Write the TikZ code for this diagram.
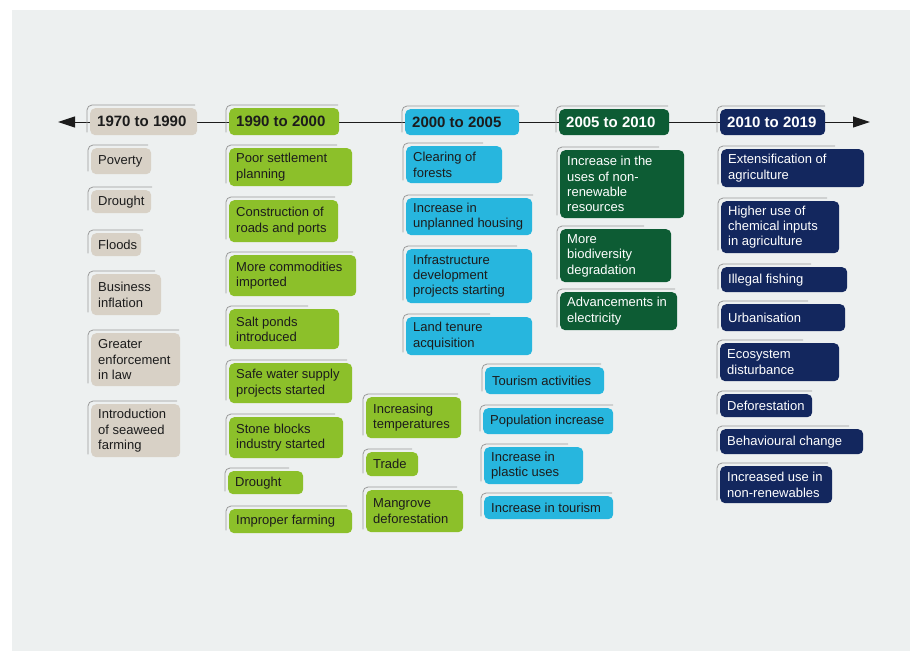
\documentclass[tikz,border=0pt]{standalone}
\usepackage{fontspec}
\setmainfont{Liberation Sans}
\usetikzlibrary{arrows.meta,calc}
\definecolor{cbg}{HTML}{EDF0F0}
\definecolor{cbeige}{HTML}{D8D1C6}
\definecolor{clgreen}{HTML}{8CC02A}
\definecolor{ccyan}{HTML}{27B6DE}
\definecolor{cdgreen}{HTML}{0D5C34}
\definecolor{cnavy}{HTML}{13275E}
\definecolor{cdark}{HTML}{1C1C1C}
\definecolor{cline}{HTML}{9A9A9A}
\tikzset{
  evbox/.style={rounded corners=5pt, inner sep=0pt, draw=none},
  fbeige/.style={fill=cbeige},
  flgreen/.style={fill=clgreen},
  fcyan/.style={fill=ccyan},
  fdgreen/.style={fill=cdgreen},
  fnavy/.style={fill=cnavy},
  bracket/.style={draw=cline, line width=0.8pt, rounded corners=5pt},
  dtext/.style={inner sep=0pt, align=left, text=cdark, font=\fontsize{13}{15.3}\selectfont},
  ltext/.style={dtext, text=white},
  hdtext/.style={inner sep=0pt, align=left, text=cdark, font=\fontsize{15}{18}\selectfont\bfseries},
  hltext/.style={hdtext, text=white},
  timeline/.style={draw=cdark, line width=1pt, {Triangle[length=17pt,width=11pt]}-{Triangle[length=17pt,width=11pt]}}
}
% name, x1, y1, x2, y2, bracket end x, fill style, text style, text
\newcommand{\evt}[9]{%
  \pgfmathsetmacro{\evbw}{#4-#2}%
  \pgfmathsetmacro{\evbh}{#5-#3}%
  \node[evbox,#7,minimum width=\evbw pt,minimum height=\evbh pt,anchor=north west] (#1) at (#2,#3) {};
  \draw[bracket] ([shift={(-3pt,3pt)}]#1.south west) |- ([shift={(#6pt-#2pt,3pt)}]#1.north west);
  \node[#8,anchor=west] (#1t) at ([xshift=7pt]#1.west) {#9};
}
\begin{document}
\begin{tikzpicture}[x=1pt,y=-1pt]
\useasboundingbox (0,0) rectangle (910,651);
\fill[white] (0,0) rectangle (910,651);
\fill[cbg] (12,10) rectangle (910,651);

% timeline
\coordinate (tl) at (58,122);
\coordinate (tr) at (870,122);
\draw[timeline] (tl) -- (tr);

% headers
\evt{h1}{90}{108}{197}{135}{195}{fbeige}{hdtext}{1970 to 1990}
\evt{h2}{229}{108}{339}{135}{338}{flgreen}{hdtext}{1990 to 2000}
\evt{h3}{405}{109}{519}{135}{519}{fcyan}{hdtext}{2000 to 2005}
\evt{h4}{559}{109}{669}{135}{668}{fdgreen}{hltext}{2005 to 2010}
\evt{h5}{720}{109}{825}{135}{825}{fnavy}{hltext}{2010 to 2019}

% 1970 to 1990
\evt{a1}{91}{148}{151}{174}{148}{fbeige}{dtext}{Poverty}
\evt{a2}{91}{190}{151}{213}{152}{fbeige}{dtext}{Drought}
\evt{a3}{91}{233}{141}{256}{143}{fbeige}{dtext}{Floods}
\evt{a4}{91}{274}{161}{315}{155}{fbeige}{dtext}{Business\\inflation}
\evt{a5}{91}{333}{180}{386}{179}{fbeige}{dtext}{Greater\\enforcement\\in law}
\evt{a6}{91}{404}{180}{457}{177}{fbeige}{dtext}{Introduction\\of seaweed\\farming}

% 1990 to 2000
\evt{b1}{229}{148}{352}{186}{337}{flgreen}{dtext}{Poor settlement\\planning}
\evt{b2}{229}{200}{338}{242}{335}{flgreen}{dtext}{Construction of\\roads and ports}
\evt{b3}{229}{255}{356}{296}{353}{flgreen}{dtext}{More commodities\\imported}
\evt{b4}{229}{309}{339}{349}{308}{flgreen}{dtext}{Salt ponds\\introduced}
\evt{b5}{229}{363}{352}{403}{347}{flgreen}{dtext}{Safe water supply\\projects started}
\evt{b6}{229}{417}{343}{458}{335}{flgreen}{dtext}{Stone blocks\\industry started}
\evt{b7}{228}{471}{303}{494}{289}{flgreen}{dtext}{Drought}
\evt{b8}{229}{509}{352}{533}{347}{flgreen}{dtext}{Improper farming}

\evt{c1}{366}{397}{461}{438}{458}{flgreen}{dtext}{Increasing\\temperatures}
\evt{c2}{366}{452}{418}{476}{412}{flgreen}{dtext}{Trade}
\evt{c3}{366}{490}{463}{532}{457}{flgreen}{dtext}{Mangrove\\deforestation}

% 2000 to 2005
\evt{d1}{406}{146}{502}{183}{483}{fcyan}{dtext}{Clearing of\\forests}
\evt{d2}{406}{198}{532}{235}{533}{fcyan}{dtext}{Increase in\\unplanned housing}
\evt{d3}{406}{249}{532}{303}{517}{fcyan}{dtext}{Infrastructure\\development\\projects starting}
\evt{d4}{406}{317}{532}{355}{490}{fcyan}{dtext}{Land tenure\\acquisition}

\evt{e1}{485}{367}{604}{394}{601}{fcyan}{dtext}{Tourism activities}
\evt{e2}{483}{408}{613}{434}{613}{fcyan}{dtext}{Population increase}
\evt{e3}{484}{447}{583}{484}{568}{fcyan}{dtext}{Increase in\\plastic uses}
\evt{e4}{484}{496}{613}{519}{612}{fcyan}{dtext}{Increase in tourism}

% 2005 to 2010
\evt{f1}{560}{150}{684}{218}{659}{fdgreen}{ltext}{Increase in the\\uses of non-\\renewable\\resources}
\evt{f2}{560}{229}{671}{282}{644}{fdgreen}{ltext}{More\\biodiversity\\degradation}
\evt{f3}{560}{292}{677}{330}{675}{fdgreen}{ltext}{Advancements in\\electricity}

% 2010 to 2019
\evt{g1}{721}{149}{864}{187}{835}{fnavy}{ltext}{Extensification of\\agriculture}
\evt{g2}{721}{201}{839}{253}{827}{fnavy}{ltext}{Higher use of\\chemical inputs\\in agriculture}
\evt{g3}{721}{267}{847}{292}{811}{fnavy}{ltext}{Illegal fishing}
\evt{g4}{721}{304}{845}{331}{808}{fnavy}{ltext}{Urbanisation}
\evt{g5}{720}{343}{839}{381}{803}{fnavy}{ltext}{Ecosystem\\disturbance}
\evt{g6}{720}{394}{812}{417}{812}{fnavy}{ltext}{Deforestation}
\evt{g7}{720}{429}{863}{454}{849}{fnavy}{ltext}{Behavioural change}
\evt{g8}{720}{466}{832}{503}{828}{fnavy}{ltext}{Increased use in\\non-renewables}
\end{tikzpicture}
\end{document}
